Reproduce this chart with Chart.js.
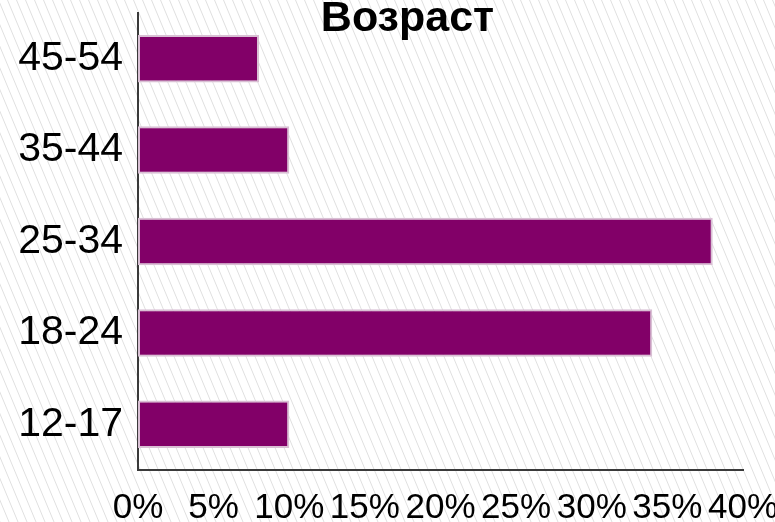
<!DOCTYPE html>
<html>
<head>
<meta charset="utf-8">
<script src="https://cdn.jsdelivr.net/npm/chart.js@4"></script>
<style>
  html, body { margin: 0; padding: 0; background: #fff; }
  #wrap { width: 775px; height: 522px; }
</style>
</head>
<body>
<div id="wrap"><canvas id="container" width="775" height="522"></canvas></div>
<script>
const ageGroups = ['45-54', '35-44', '25-34', '18-24', '12-17'];
const shares = [8, 10, 38, 34, 10];
const xTicks = [0, 5, 10, 15, 20, 25, 30, 35, 40];
const chartTitle = 'Возраст';

// hatched background
const hatchBg = {
    id: 'hatchBg',
    beforeDraw(c) {
        const ctx = c.ctx;
        const w = c.width, h = c.height;
        ctx.save();
        ctx.fillStyle = '#ffffff';
        ctx.fillRect(0, 0, w, h);
        ctx.strokeStyle = '#e0e0e0';
        ctx.lineWidth = 1;
        const run = h / 2.4;
        ctx.beginPath();
        for (let x = -run; x < w + 9; x += 9) {
            ctx.moveTo(x, 0);
            ctx.lineTo(x + run, h);
        }
        ctx.stroke();
        ctx.restore();
    }
};

// title overlaps the top of the plot, so it is drawn on top instead of taking layout space
const topTitle = {
    id: 'topTitle',
    afterDraw(c) {
        const ctx = c.ctx;
        ctx.save();
        ctx.font = 'bold 43px "Liberation Sans", Arial, sans-serif';
        ctx.fillStyle = '#000';
        ctx.textAlign = 'center';
        ctx.textBaseline = 'alphabetic';
        ctx.fillText(chartTitle, (c.chartArea.left - 98 + c.width) / 2, 31);
        ctx.restore();
    }
};

const ctx = document.getElementById('container').getContext('2d');

const chart = new Chart(ctx, {
    type: 'bar',
    data: {
        labels: ageGroups,
        datasets: [{
            label: chartTitle,
            data: shares,
            backgroundColor: '#820068',
            borderColor: '#d9c0d4',
            borderWidth: 2,
            borderSkipped: false,
            barPercentage: 0.52,
            categoryPercentage: 1
        }]
    },
    options: {
        indexAxis: 'y',
        responsive: false,
        animation: false,
        layout: { padding: { left: 0, top: 13, right: 0, bottom: 0 } },
        plugins: {
            legend: { display: false },
            tooltip: { enabled: false },
            title: { display: false }
        },
        scales: {
            x: {
                min: 0,
                max: 40,
                afterBuildTicks: s => { s.ticks = xTicks.map(v => ({ value: v })); },
                afterFit: s => { s.height = 52; s.paddingRight = 32; s.paddingLeft = 0; },
                grid: { display: false },
                border: { display: true, color: '#3a3a3a', width: 2 },
                ticks: {
                    autoSkip: false,
                    maxRotation: 0,
                    padding: 9,
                    color: '#000',
                    font: { family: 'Liberation Sans', size: 35 },
                    callback: v => v + '%'
                }
            },
            y: {
                afterFit: s => { s.width = 138; s.paddingTop = 0; s.paddingBottom = 0; },
                grid: { display: false },
                border: { display: true, color: '#3a3a3a', width: 2 },
                ticks: {
                    padding: 7,
                    color: '#000',
                    font: { family: 'Liberation Sans', size: 41 }
                }
            }
        }
    },
    plugins: [hatchBg, topTitle]
});
</script>
</body>
</html>
